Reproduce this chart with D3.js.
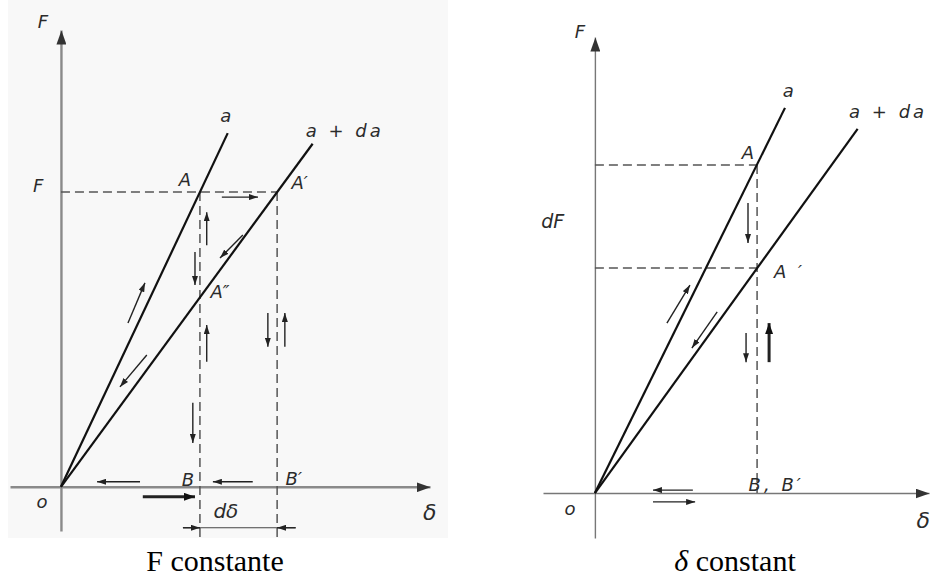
<!DOCTYPE html>
<html>
<head>
<meta charset="utf-8">
<script src="https://cdn.jsdelivr.net/npm/d3@7"></script>
<style>
  body { margin: 0; background: #fff; }
  svg { display: block; }
  .hand { font-family: "DejaVu Sans", sans-serif; font-style: oblique; fill: #2b2b2b; font-size: 18px; }
  .cap { font-family: "Liberation Serif", "Times New Roman", serif; font-size: 30px; fill: #000; }
</style>
</head>
<body>
<svg id="chart" width="932" height="580"></svg>
<script>
// ---- data: points are (delta, F) in drawing units ----

// left panel: F constante
const leftLineA = [[0, 0], [5.4, 12.0]];
const leftLineDa = [[0, 0], [8.15, 11.64]];
const leftDashed = [
  [[0, 10], [7.0, 10]],      // F level through A and A'
  [[4.5, 10], [4.5, -1.7]],  // A -> A'' -> B
  [[7.0, 10], [7.0, -1.7]]   // A' -> B'
];
const leftDimLine = [[3.95, -1.39], [7.6, -1.39]]; // d-delta dimension
// [d1, F1, d2, F2, thick]
const leftArrows = [
  [5.21, 9.83, 6.38, 9.83, 0],
  [4.72, 8.2, 4.72, 9.32, 0],
  [4.34, 7.97, 4.34, 6.85, 0],
  [4.72, 4.24, 4.72, 5.49, 0],
  [4.27, 2.85, 4.27, 1.49, 0],
  [6.70, 5.9, 6.70, 4.75, 0],
  [7.25, 4.75, 7.25, 5.9, 0],
  [2.17, 5.56, 2.72, 6.92, 0],
  [2.78, 4.47, 1.91, 3.39, 0],
  [5.89, 8.54, 5.15, 7.76, 0],
  [2.56, 0.17, 1.17, 0.17, 0],
  [6.21, 0.17, 4.92, 0.17, 0],
  [2.65, -0.34, 4.34, -0.34, 1],
  [3.95, -1.39, 4.5, -1.39, 0],
  [7.6, -1.39, 7.0, -1.39, 0]
];
// [text, delta, F, size]
const leftLabels = [
  ["F", -0.58, 15.56, 18], ["F", -0.74, 10.0, 18], ["a", 5.34, 12.37, 18], ["a + da", 9.19, 11.86, 18],
  ["A", 4.01, 10.2, 18], ["A\u2032", 7.73, 10.1, 18], ["A\u2033", 5.15, 6.41, 18],
  ["B", 4.11, 0.03, 18], ["B\u2032", 7.54, 0.07, 18], ["o", -0.61, -0.71, 18],
  ["\u03b4", 11.94, -1.12, 22], ["d\u03b4", 5.34, -1.05, 20]
];

// right panel: delta constant
const rightLineA = [[0, 0], [5.86, 11.74]];
const rightLineDa = [[0, 0], [8.1, 11.1]];
const rightDashed = [
  [[0, 10], [5, 10]],
  [[0, 6.86], [5, 6.86]],
  [[5, 10], [5, 0]]
];
const rightArrows = [
  [4.72, 8.84, 4.72, 7.62, 0],
  [4.66, 4.88, 4.66, 3.99, 0],
  [5.37, 3.99, 5.37, 5.18, 1],
  [2.22, 5.18, 2.93, 6.34, 0],
  [3.77, 5.52, 2.99, 4.42, 0],
  [3.02, 0.09, 1.79, 0.09, 0],
  [1.79, -0.27, 3.09, -0.27, 0]
];
const rightLabels = [
  ["F", -0.46, 13.87, 18], ["a", 5.96, 12.07, 18], ["a + da", 9.04, 11.43, 18],
  ["A", 4.72, 10.18, 18], ["A  \u2032", 6.0, 6.55, 18], ["dF", -1.30, 8.08, 19],
  ["B, B\u2032", 5.59, 0.06, 18], ["o", -0.77, -0.67, 18], ["\u03b4", 10.12, -1.07, 22]
];

const svg = d3.select("#chart");

// faint scanned-paper tint behind the left figure
svg.append("rect").attr("x", 8).attr("y", 0).attr("width", 440).attr("height", 538)
  .attr("fill", "#f8f8f8");

// arrowhead markers
const defs = svg.append("defs");
function marker(id, len, half, color) {
  defs.append("marker")
    .attr("id", id)
    .attr("viewBox", `${-len} ${-half} ${len} ${2 * half}`)
    .attr("refX", 0).attr("refY", 0)
    .attr("markerWidth", len).attr("markerHeight", 2 * half)
    .attr("markerUnits", "userSpaceOnUse")
    .attr("orient", "auto")
    .append("path")
    .attr("d", `M0,0L${-len},${-half}L${-len},${half}Z`)
    .attr("fill", color);
}
marker("axisHead", 14, 5, "#333");
marker("smallHead", 9, 3, "#222");
marker("bigHead", 11, 4, "#111");

function drawPanel(cfg) {
  const x = d3.scaleLinear().domain(cfg.xDomain).range(cfg.xRange);
  const y = d3.scaleLinear().domain(cfg.yDomain).range(cfg.yRange);
  const g = svg.append("g");

  // axes through the origin, arrow at the far end
  const xAxis = g.append("g").attr("transform", `translate(0,${y(0)})`)
    .call(d3.axisBottom(x).tickValues([]).tickSizeOuter(0));
  const yAxis = g.append("g").attr("transform", `translate(${x(0)},0)`)
    .call(d3.axisLeft(y).tickValues([]).tickSizeOuter(0));
  [xAxis, yAxis].forEach(a => a.select(".domain")
    .attr("stroke", cfg.axisColor).attr("stroke-width", cfg.axisWidth)
    .attr("marker-end", "url(#axisHead)"));

  const line = d3.line().x(d => x(d[0])).y(d => y(d[1]));

  // dashed construction lines
  g.selectAll(".dash").data(cfg.dashed).join("path")
    .attr("d", line).attr("fill", "none")
    .attr("stroke", "#555").attr("stroke-width", 1.5)
    .attr("stroke-dasharray", "9,5");

  if (cfg.dim) {
    g.append("path").attr("d", line(cfg.dim)).attr("fill", "none")
      .attr("stroke", "#444").attr("stroke-width", 1.2);
  }

  // the two stiffness lines
  g.selectAll(".curve").data([cfg.lineA, cfg.lineDa]).join("path")
    .attr("d", line).attr("fill", "none")
    .attr("stroke", "#111").attr("stroke-width", 2.2);

  // small direction arrows
  g.selectAll(".arr").data(cfg.arrows).join("line")
    .attr("x1", d => x(d[0])).attr("y1", d => y(d[1]))
    .attr("x2", d => x(d[2])).attr("y2", d => y(d[3]))
    .attr("stroke", "#222")
    .attr("stroke-width", d => d[4] ? 3 : 1.4)
    .attr("marker-end", d => d[4] ? "url(#bigHead)" : "url(#smallHead)");

  // hand-lettered labels
  g.selectAll(".lab").data(cfg.labels).join("text")
    .attr("class", "hand")
    .attr("x", d => x(d[1])).attr("y", d => y(d[2]))
    .attr("text-anchor", "middle")
    .style("font-size", d => d[3] + "px")
    .attr("letter-spacing", d => d[0].length > 3 ? 3 : 0)
    .text(d => d[0]);
}

drawPanel({
  xDomain: [-1.65, 11.95], xRange: [10, 430],
  yDomain: [-1.5, 15.5], yRange: [531, 30],
  axisColor: "#8a8a8a", axisWidth: 2.4,
  lineA: leftLineA, lineDa: leftLineDa, dim: leftDimLine,
  dashed: leftDashed, arrows: leftArrows, labels: leftLabels
});

drawPanel({
  xDomain: [-1.6, 10.3], xRange: [543, 929],
  yDomain: [-1.37, 13.9], yRange: [538, 37],
  axisColor: "#777", axisWidth: 1.4,
  lineA: rightLineA, lineDa: rightLineDa,
  dashed: rightDashed, arrows: rightArrows, labels: rightLabels
});

// captions
svg.append("text").attr("class", "cap")
  .attr("x", 215).attr("y", 571).attr("text-anchor", "middle")
  .text("F constante");
const cap2 = svg.append("text").attr("class", "cap")
  .attr("x", 735).attr("y", 571).attr("text-anchor", "middle");
cap2.append("tspan").attr("font-style", "italic").text("\u03b4");
cap2.append("tspan").text(" constant");
</script>
</body>
</html>
